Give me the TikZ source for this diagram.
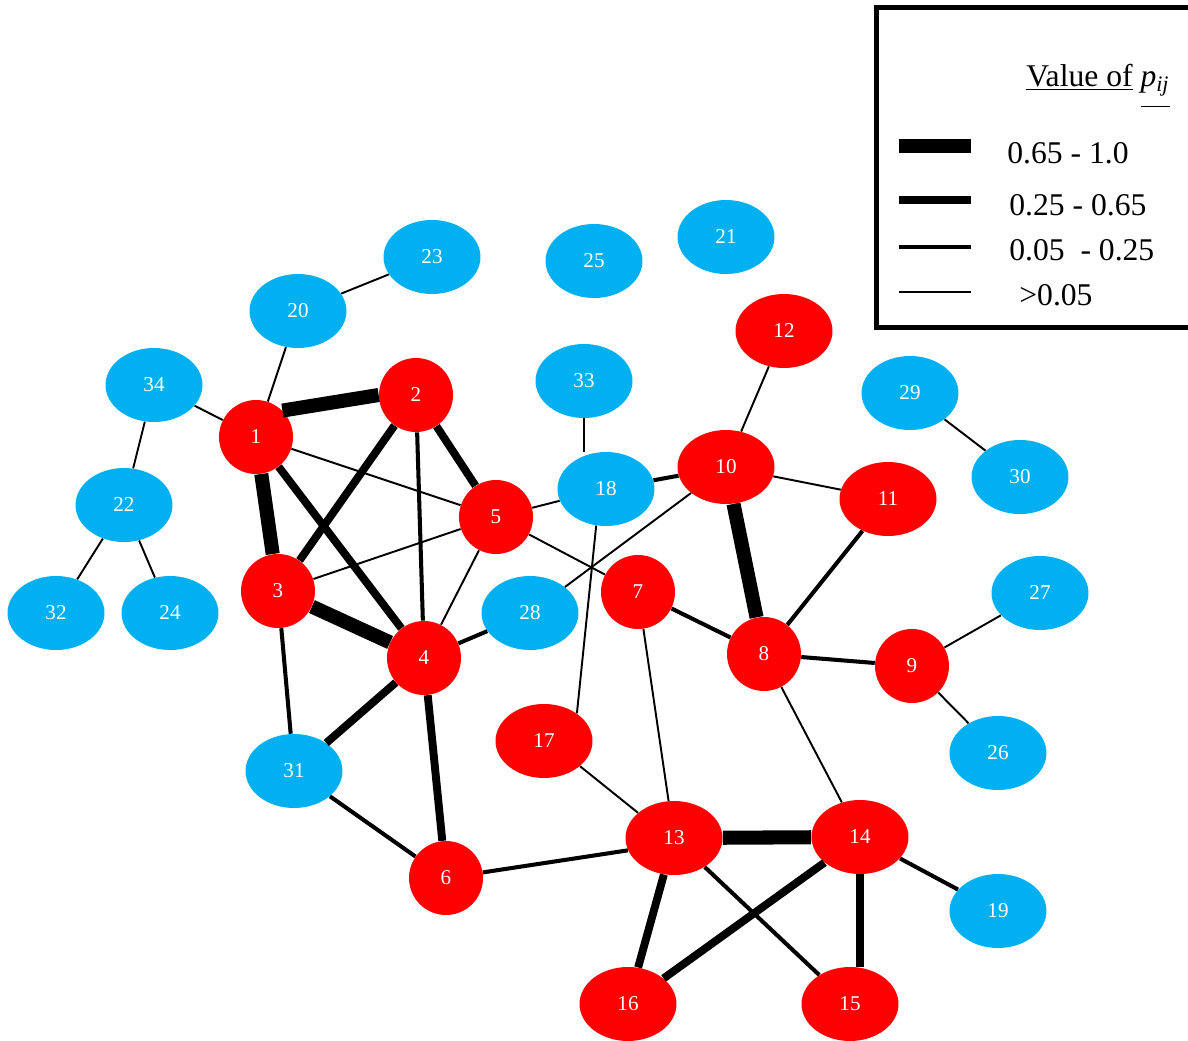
\documentclass[tikz,border=0pt]{standalone}
\usepackage{fontspec}
\setmainfont{Liberation Serif}
\usepackage{tikz}
\usetikzlibrary{shapes.geometric}

\definecolor{nodered}{RGB}{255,0,0}
\definecolor{nodeblue}{RGB}{0,176,240}

\begin{document}
\begin{tikzpicture}[x=0.02cm,y=-0.02cm,
  redcirc/.style={ellipse, fill=nodered, text=white, inner sep=0pt,
    minimum width=1.48cm, minimum height=1.48cm, font=\fontsize{12}{12}\selectfont},
  redell/.style={redcirc, minimum width=1.94cm},
  blueell/.style={redell, fill=nodeblue},
  pvhigh/.style={line width=8pt},
  pmid/.style={line width=4.5pt},
  plow/.style={line width=2.3pt},
  pmin/.style={line width=1.1pt},
  legtext/.style={anchor=west, inner sep=0pt, font=\fontsize{18}{20}\selectfont}]
  \useasboundingbox (0,0) rectangle (1188,1041);

  % Legend
  \draw[line width=2.8pt] (876.5,7.5) rectangle (1200,327.5);
  \node[legtext] (legtitle) at (1026,86) {\underline{Value of} \underline{\textit{p}\textsubscript{\textit{ij}}\rule[-10pt]{0pt}{1pt}}};
  \draw[pvhigh] (899,146) -- (971,146);
  \node[legtext] (leg1) at (1007,153) {0.65 - 1.0};
  \draw[pmid] (899,200) -- (971,200);
  \node[legtext] (leg2) at (1009,205) {0.25 - 0.65};
  \draw[plow] (899,247) -- (971,247);
  \node[legtext] (leg3) at (1009,250) {0.05 ~- 0.25};
  \draw[pmin] (899,292) -- (971,292);
  \node[legtext] (leg4) at (1019,295) {>0.05};

  % Red nodes
  \node[redcirc] (n1) at (256,437) {1};
  \node[redcirc] (n2) at (416,395) {2};
  \node[redcirc] (n3) at (278,591) {3};
  \node[redcirc] (n4) at (424,658) {4};
  \node[redcirc] (n5) at (496,517) {5};
  \node[redcirc] (n6) at (446,878) {6};
  \node[redcirc] (n7) at (638,592) {7};
  \node[redcirc] (n8) at (764,654) {8};
  \node[redcirc] (n9) at (912,666) {9};
  \node[redell] (n10) at (726,467) {10};
  \node[redell] (n11) at (888,499) {11};
  \node[redell] (n12) at (784,331) {12};
  \node[redell] (n13) at (674,838) {13};
  \node[redell] (n14) at (860,837) {14};
  \node[redell] (n15) at (850,1004) {15};
  \node[redell] (n16) at (628,1004) {16};
  \node[redell] (n17) at (544,741) {17};

  % Blue nodes
  \node[blueell] (n18) at (606,489) {18};
  \node[blueell] (n19) at (998,911) {19};
  \node[blueell] (n20) at (298,311) {20};
  \node[blueell] (n21) at (726,237) {21};
  \node[blueell] (n22) at (124,505) {22};
  \node[blueell] (n23) at (432,257) {23};
  \node[blueell] (n24) at (170,613) {24};
  \node[blueell] (n25) at (594,261) {25};
  \node[blueell] (n26) at (998,753) {26};
  \node[blueell] (n27) at (1040,593) {27};
  \node[blueell] (n28) at (530,613) {28};
  \node[blueell] (n29) at (910,393) {29};
  \node[blueell] (n30) at (1020,477) {30};
  \node[blueell] (n31) at (294,771) {31};
  \node[blueell] (n32) at (56,613) {32};
  \node[blueell] (n33) at (584,381) {33};
  \node[blueell] (n34) at (154,385) {34};

  % 0.65 - 1.0
  \draw[pvhigh] (n1.45) -- (n2.180);
  \draw[pvhigh] (n1) -- (n3);
  \draw[pvhigh] (n3) -- (n4);
  \draw[pvhigh] (n10) -- (n8);
  \draw[pvhigh] (n13) -- (n14);

  % 0.25 - 0.65
  \draw[pmid] (n2) -- (n3);
  \draw[pmid] (n2) -- (n5);
  \draw[pmid] (n1) -- (n4);
  \draw[pmid] (n4) -- (n31);
  \draw[pmid] (n4) -- (n6);
  \draw[pmid] (n13) -- (n16);
  \draw[pmid] (n14) -- (n16);
  \draw[pmid] (n14.south) -- (n15.north -| n14.south);

  % 0.05 - 0.25
  \draw[plow] (n2) -- (n4);
  \draw[plow] (n4) -- (n28);
  \draw[plow] (n18) -- (n10);
  \draw[plow] (n7) -- (n8);
  \draw[plow] (n8) -- (n9);
  \draw[plow] (n8) -- (n11);
  \draw[plow] (n6) -- (n13.195);
  \draw[plow] (n14) -- (n19);
  \draw[plow] (n31) -- (n6);
  \draw[plow] (n3) -- (n31);
  \draw[plow] (n13) -- (n15);

  % >0.05
  \draw[pmin] (n1) -- (n5);
  \draw[pmin] (n3) -- (n5);
  \draw[pmin] (n4) -- (n5);
  \draw[pmin] (n5) -- (n18);
  \draw[pmin] (n5) -- (n7);
  \draw[pmin] (n10) -- (n28);
  \draw[pmin] (n18.255) -- (n17.40);
  \draw[pmin] (n33.south) -- (n18.north -| n33.south);
  \draw[pmin] (n10) -- (n12);
  \draw[pmin] (n10) -- (n11);
  \draw[pmin] (n7) -- (n13);
  \draw[pmin] (n17.-35) -- (n13.145);
  \draw[pmin] (n8) -- (n14);
  \draw[pmin] (n9) -- (n27);
  \draw[pmin] (n9) -- (n26);
  \draw[pmin] (n29) -- (n30);
  \draw[pmin] (n1) -- (n34);
  \draw[pmin] (n1) -- (n20);
  \draw[pmin] (n20) -- (n23);
  \draw[pmin] (n34) -- (n22);
  \draw[pmin] (n22) -- (n32);
  \draw[pmin] (n22) -- (n24);
\end{tikzpicture}
\end{document}
